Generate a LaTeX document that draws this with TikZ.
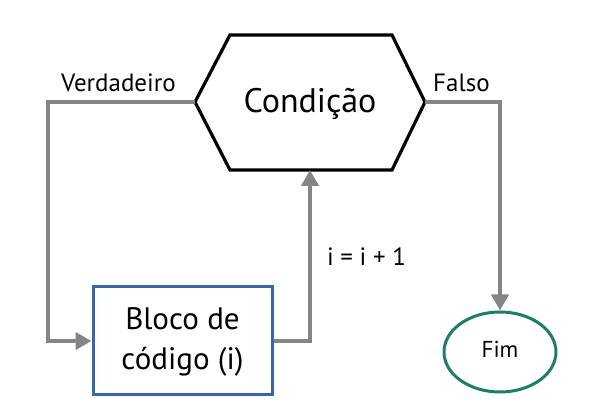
\documentclass[tikz,border=0pt]{standalone}
\usepackage{fontspec}
\setmainfont{PT Sans}
\usetikzlibrary{arrows.meta,shapes.geometric}
\definecolor{conngray}{HTML}{858585}
\definecolor{boxblue}{HTML}{3767A8}
\definecolor{fimgreen}{HTML}{1A7F64}
\tikzset{
  conn/.style={draw=conngray, line width=4pt, -{Triangle[length=16pt,width=17pt]}},
  hexline/.style={draw=black, line width=3.2pt, line join=miter},
  blockbox/.style={draw=boxblue, line width=3pt, fill=white, minimum width=179pt, minimum height=108pt, align=center, inner sep=0pt},
  fimshape/.style={ellipse, draw=fimgreen, line width=3pt, minimum width=112pt, minimum height=80pt, inner sep=0pt},
  lbl/.style={inner sep=0pt, anchor=base, font=\fontsize{25}{30}\selectfont},
  txt/.style={inner sep=0pt, anchor=base},
}
\begin{document}
\begin{tikzpicture}[x=1pt,y=1pt]
\useasboundingbox (0,0) rectangle (592,420);
% hexagon vertices
\coordinate (hL) at (195,318);
\coordinate (hTL) at (230,385);
\coordinate (hTR) at (392,385);
\coordinate (hR) at (425,318);
\coordinate (hBR) at (392,250);
\coordinate (hBL) at (230,250);
\coordinate (hB) at (310,250);
\coordinate (vcorner) at (48,318);
\draw[hexline] (hL) -- (hTL) -- (hTR) -- (hR) -- (hBR) -- (hBL) -- cycle;
\node[txt, font=\fontsize{34}{40}\selectfont] (cond) at (310,307) {Condição};
\node[blockbox] (bloco) at (182.5,79) {};
\node[txt, font=\fontsize{31}{40}\selectfont] (bl1) at (182.5,90) {Bloco de};
\node[txt, font=\fontsize{31}{40}\selectfont] (bl2) at (182.5,50) {código (i)};
\node[fimshape] (fim) at (500,68) {};
\node[txt, font=\fontsize{23}{28}\selectfont] (fimtxt) at (500,62) {Fim};
% connectors
\draw[conn] (hL) -- (vcorner) |- (bloco.west);
\draw[conn] (bloco.east) -| (hB);
\draw[conn] (hR) -| (fim.north);
% labels
\node[lbl] (lv) at (118.5,328) {Verdadeiro};
\node[lbl] (lf) at (461.5,328) {Falso};
\node[lbl] (li) at (366.5,154) {i = i + 1};
\end{tikzpicture}
\end{document}
